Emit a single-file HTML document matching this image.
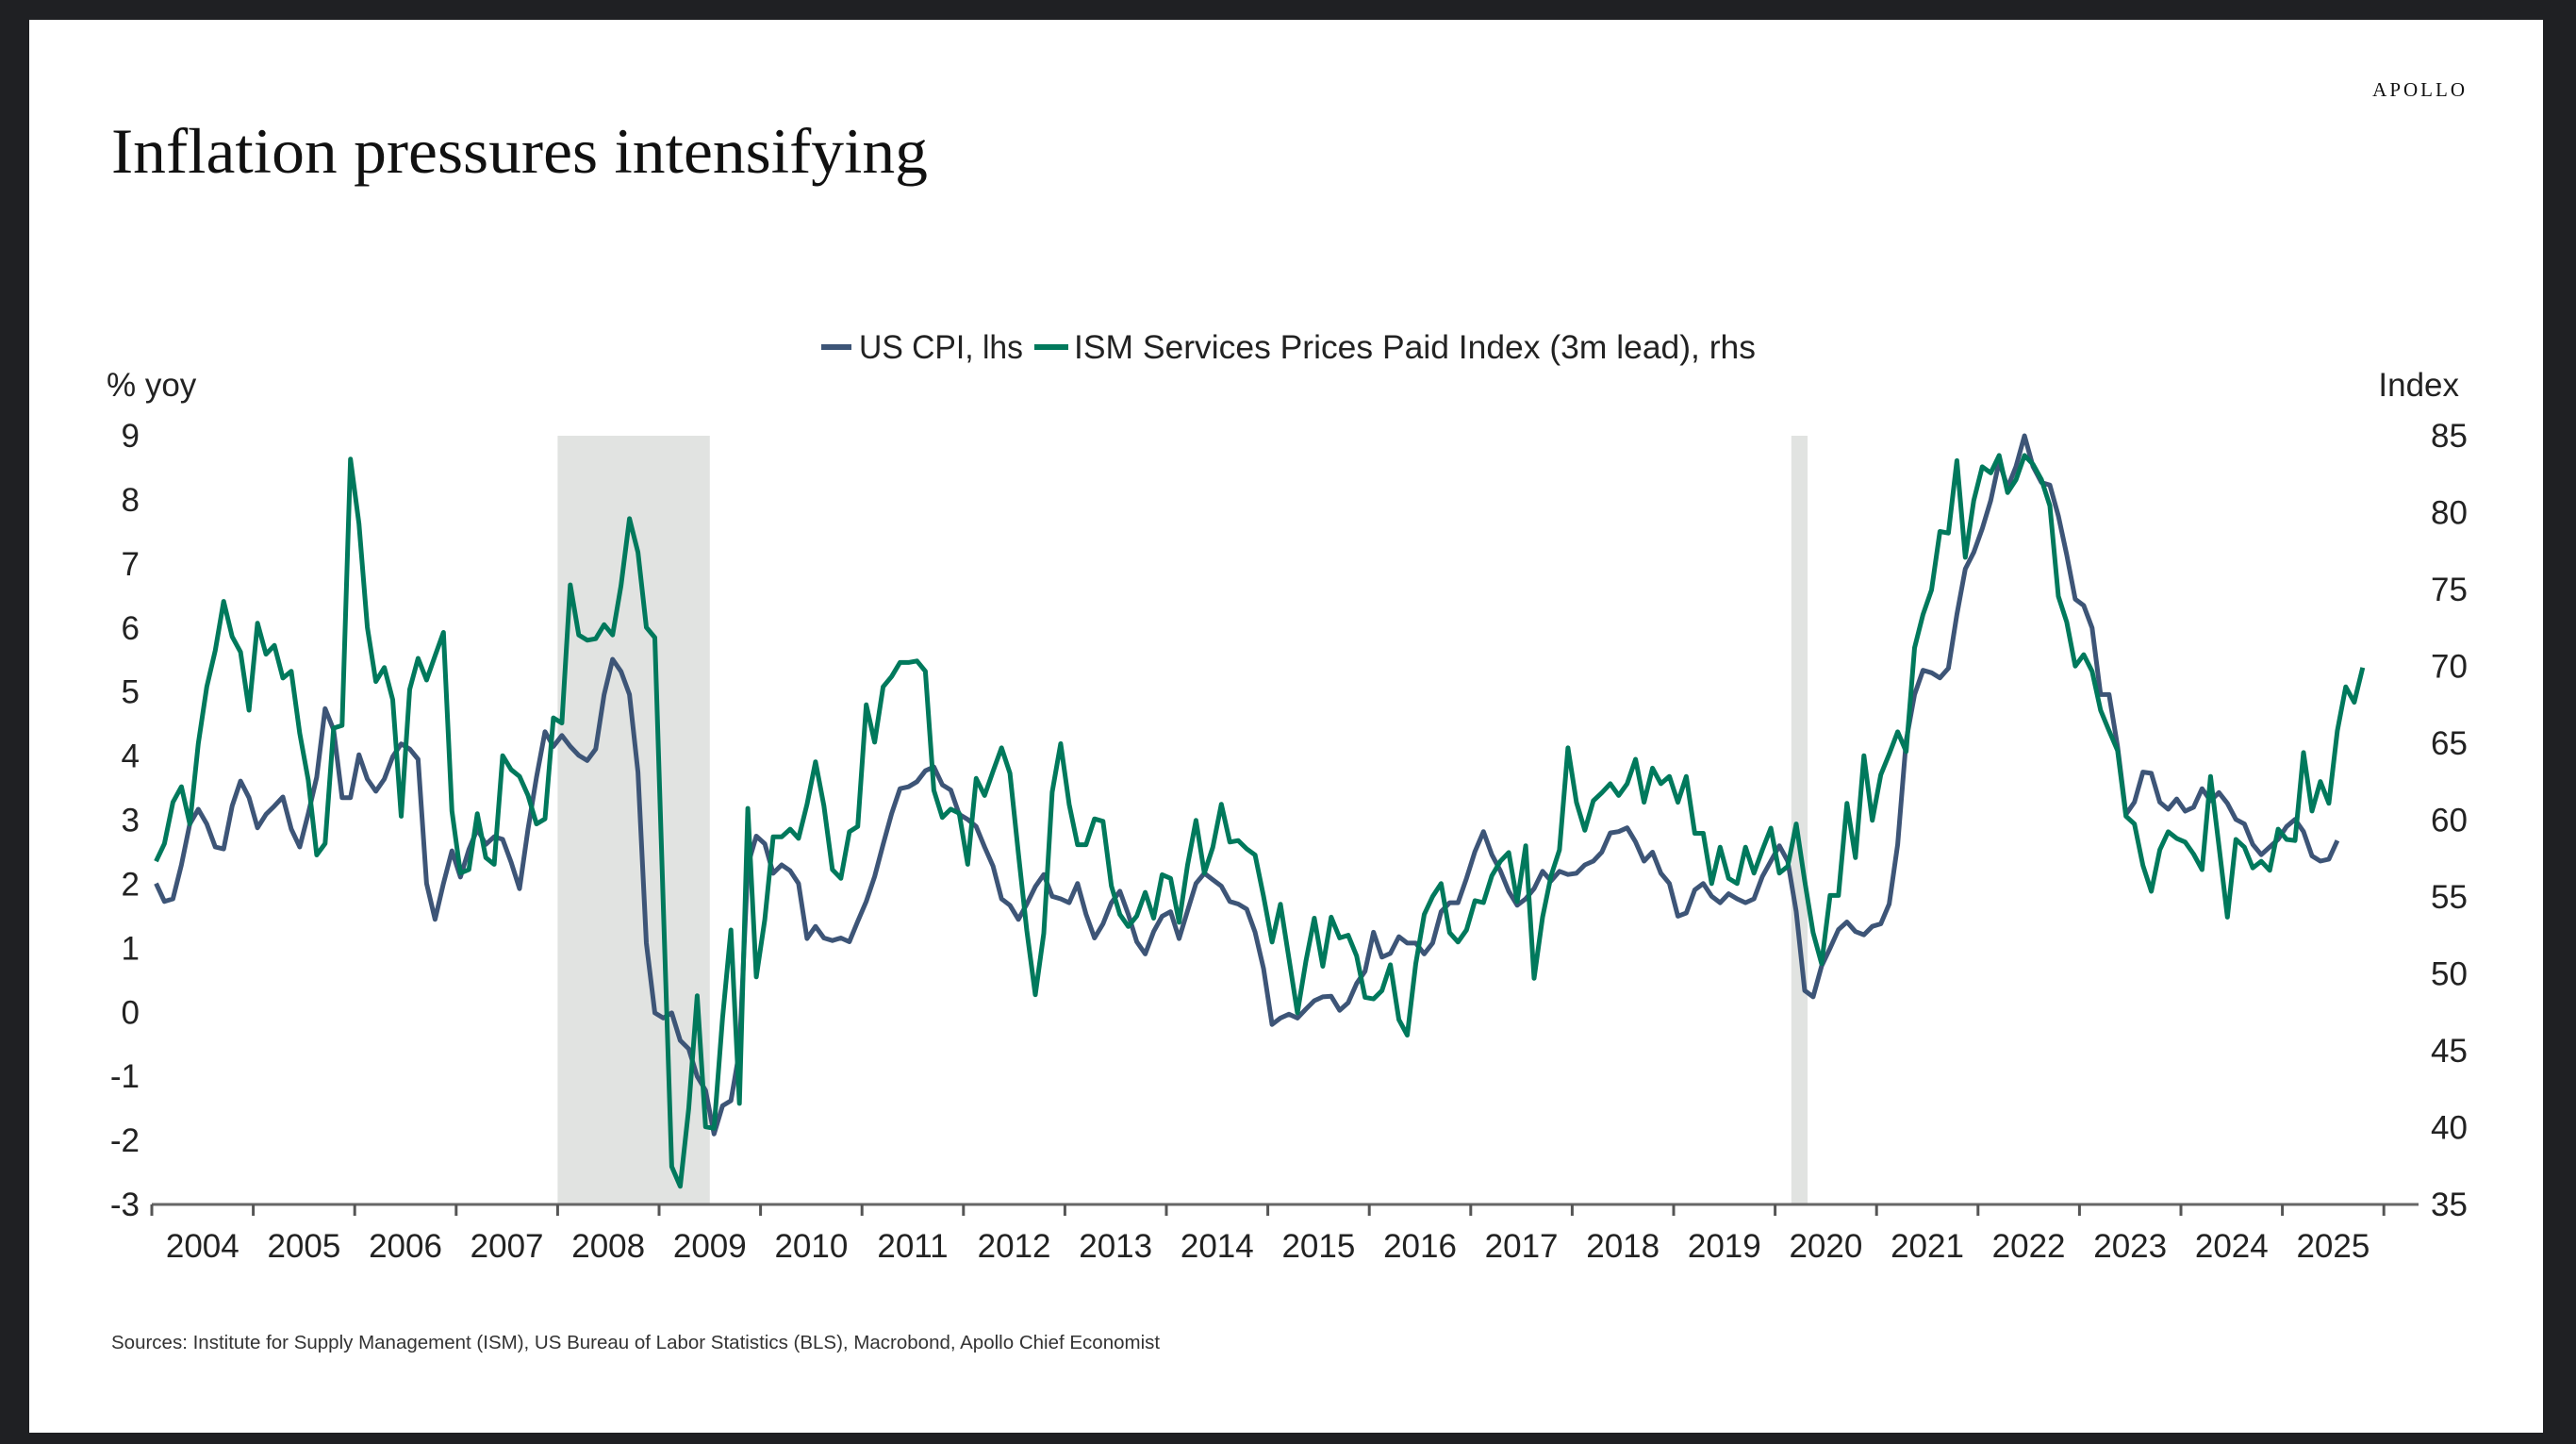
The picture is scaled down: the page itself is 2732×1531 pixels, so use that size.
<!DOCTYPE html>
<html><head><meta charset="utf-8"><style>
html,body{margin:0;padding:0;background:#1f2023;}
svg{display:block;}
text{font-family:"Liberation Sans",sans-serif;}
</style></head><body>
<svg id="chart" width="2732" height="1531" viewBox="0 0 2732 1531">
<rect x="0" y="0" width="2732" height="1531" fill="#1f2023"/>
<rect x="31" y="21" width="2666" height="1498" fill="#ffffff"/>
<text x="118" y="183" font-family="Liberation Serif, serif" style="font-family:'Liberation Serif',serif" font-size="68" fill="#111" textLength="866" lengthAdjust="spacingAndGlyphs">Inflation pressures intensifying</text>
<text x="2617" y="102" text-anchor="end" style="font-family:'Liberation Serif',serif" font-size="21" letter-spacing="3" fill="#111">APOLLO</text>
<g>
<line x1="871" y1="368" x2="903" y2="368" stroke="#3d5577" stroke-width="6"/>
<text x="911" y="380" font-size="35" fill="#222" textLength="174" lengthAdjust="spacingAndGlyphs">US CPI, lhs</text>
<line x1="1097" y1="368" x2="1133" y2="368" stroke="#00795c" stroke-width="6"/>
<text x="1139" y="380" font-size="35" fill="#222" textLength="723" lengthAdjust="spacingAndGlyphs">ISM Services Prices Paid Index (3m lead), rhs</text>
</g>
<text x="113" y="420" font-size="35" fill="#222">% yoy</text>
<text x="2608" y="420" font-size="35" fill="#222" text-anchor="end">Index</text>
<g id="shade"></g>
<g id="axes"></g>
<g id="lines"></g>
<text x="118" y="1430" font-size="20.5" fill="#333">Sources: Institute for Supply Management (ISM), US Bureau of Labor Statistics (BLS), Macrobond, Apollo Chief Economist</text>
</svg>
<script>
const startYear = 2004;
const cpiValues = [2.01,1.73,1.77,2.30,2.94,3.17,2.94,2.58,2.55,3.22,3.61,3.35,
2.88,3.09,3.22,3.36,2.86,2.58,3.10,3.67,4.74,4.41,3.35,3.35,
4.02,3.64,3.45,3.64,3.99,4.19,4.11,3.95,2.01,1.45,2.01,2.52,
2.11,2.54,2.86,2.62,2.74,2.70,2.34,1.93,2.86,3.67,4.38,4.15,
4.32,4.15,4.01,3.93,4.11,4.96,5.51,5.32,4.96,3.75,1.08,-0.01,
-0.09,-0.01,-0.44,-0.57,-1.0,-1.22,-1.90,-1.46,-1.38,-0.61,2.30,2.75,
2.63,2.17,2.30,2.21,2.01,1.15,1.34,1.16,1.12,1.16,1.10,1.42,
1.73,2.12,2.62,3.10,3.49,3.52,3.60,3.77,3.83,3.55,3.47,3.09,
3.01,2.90,2.58,2.28,1.77,1.67,1.45,1.69,1.96,2.15,1.81,1.77,
1.71,2.01,1.53,1.16,1.38,1.71,1.89,1.53,1.10,0.91,1.26,1.50,
1.57,1.15,1.58,2.01,2.17,2.07,1.97,1.73,1.69,1.61,1.25,0.68,
-0.19,-0.09,-0.03,-0.09,0.05,0.18,0.24,0.25,0.03,
0.15,0.45,0.64,
1.25,0.86,0.92,1.18,1.08,1.08,0.91,1.08,1.57,1.71,1.71,2.09,
2.51,2.82,2.46,2.21,1.89,1.67,1.77,1.93,2.20,2.05,2.20,2.15,
2.17,2.30,2.36,2.50,2.80,2.82,2.88,2.66,2.36,2.50,2.17,2.01,
1.50,1.55,1.91,2.01,1.81,1.71,1.85,1.77,1.71,1.77,2.12,2.36,
2.60,2.36,1.57,0.34,0.24,0.72,1.0,1.29,1.41,1.26,1.21,1.34,
1.38,1.69,2.62,4.24,4.96,5.34,5.30,5.22,
5.37,6.21,6.92,7.18,7.55,7.99,8.60,8.19,8.52,9.0,8.52,8.27,
8.23,7.75,7.14,6.45,6.35,6.0,4.96,4.96,4.15,3.09,3.28,3.75,
3.73,3.28,3.17,3.33,3.14,3.20,3.49,3.30,3.43,3.26,3.01,2.94,
2.62,2.46,2.58,2.70,2.90,3.01,2.82,2.44,2.36,2.39,2.68];
const ismValues = [57.32,58.47,61.16,62.17,59.75,64.97,68.67,71.03,74.23,71.94,70.93,67.15,
72.81,70.79,71.36,69.24,69.68,65.64,62.61,57.73,58.47,65.98,66.16,83.48,
79.28,72.54,69.01,69.92,67.83,60.25,68.50,70.52,69.11,70.69,72.21,60.59,
56.55,56.78,60.42,57.56,57.12,64.19,63.28,62.84,61.60,59.75,60.08,66.65,
66.31,75.30,72.04,71.70,71.80,72.71,72.04,75.24,79.61,77.42,72.54,71.87,
54.36,37.46,36.18,41.23,48.57,40.05,39.95,47.12,52.85,41.57,60.76,49.8,
53.52,58.91,58.91,59.41,58.81,61.03,63.79,60.93,56.78,56.21,59.24,59.58,
67.50,65.07,68.67,69.34,70.25,70.25,70.35,69.68,61.94,60.17,60.71,60.44,
57.12,62.71,61.60,63.18,64.70,63.05,57.81,52.81,48.64,52.64,61.82,64.97,
61.03,58.40,58.40,60.08,59.92,55.71,53.86,53.08,53.76,55.30,53.62,56.45,
56.21,53.35,57.05,59.98,56.55,58.24,61.03,58.57,58.67,58.13,57.73,55.03,
52.07,54.53,51.0,47.46,50.82,53.62,50.49,53.69,52.34,
52.51,51.16,48.47,
48.37,48.91,50.59,47.02,46.01,50.66,53.86,55.03,55.87,52.68,52.07,52.85,
54.76,54.63,56.38,57.32,57.89,54.70,58.33,49.71,53.69,56.38,58.06,64.70,
61.16,59.34,61.26,61.77,62.37,61.60,62.37,63.96,61.16,63.38,62.37,62.84,
61.16,62.84,59.14,59.14,55.87,58.24,56.21,55.87,58.24,56.55,58.06,59.48,
56.55,56.99,59.75,56.04,52.68,50.66,55.10,55.10,61.09,57.56,64.19,59.98,
62.95,64.29,65.74,64.46,71.20,73.38,74.97,78.77,
78.67,83.38,77.09,80.79,82.98,82.58,83.72,81.30,82.14,83.72,83.15,82.14,
80.45,74.56,72.88,70.02,70.76,69.68,67.15,65.81,64.53,60.25,59.75,57.05,
55.37,58.06,59.24,58.81,58.57,57.79,56.78,62.84,58.33,53.69,58.74,58.24,
56.89,57.32,56.73,59.41,58.74,58.67,64.39,60.59,62.51,61.09,65.81,68.67,
67.66,69.92];
const leftTicks = [9,8,7,6,5,4,3,2,1,0,-1,-2,-3];
const rightTicks = [85,80,75,70,65,60,55,50,45,40,35];
const yearLabels = [2004,2005,2006,2007,2008,2009,2010,2011,2012,2013,2014,2015,2016,2017,2018,2019,2020,2021,2022,2023,2024,2025];
const recessionStarts = [2008.0, 2020.16];
const recessionEnds = [2009.5, 2020.32];

const NS = "http://www.w3.org/2000/svg";
const X0 = 161, PXY = 107.6, YT = 462, YB = 1277;
function xYear(y){ return X0 + (y - 2004) * PXY; }
function xMonth(k){ return xYear(startYear + (k + 0.5) / 12); }
function yLeft(v){ return YT + (9 - v) / 12 * (YB - YT); }
function yRight(v){ return YT + (85 - v) / 50 * (YB - YT); }
function mk(tag, attrs, parent){ const e = document.createElementNS(NS, tag); for (const k in attrs) e.setAttribute(k, attrs[k]); parent.appendChild(e); return e; }

const shade = document.getElementById('shade');
recessionStarts.forEach((s, i) => {
  const r = mk('rect', {x: xYear(s), y: YT, width: xYear(recessionEnds[i]) - xYear(s), height: YB - YT, fill: '#e1e3e1'}, shade);
  
  
});

const axes = document.getElementById('axes');
const ax = mk('line', {x1: X0, y1: YB, x2: 2565, y2: YB, stroke: '#666', 'stroke-width': 3}, axes);


for (let y = 2004; y <= 2026; y++) {
  const t = mk('line', {x1: xYear(y), y1: YB, x2: xYear(y), y2: YB + 12, stroke: '#555', 'stroke-width': 3}, axes);
  
  
}
yearLabels.forEach(y => {
  const t = mk('text', {x: xYear(y + 0.5), y: YB + 56, 'text-anchor': 'middle', 'font-size': 35, fill: '#222'}, axes);
  t.textContent = y;
  
  
});
leftTicks.forEach(v => {
  const t = mk('text', {x: 148, y: yLeft(v) + 12, 'text-anchor': 'end', 'font-size': 35, fill: '#222'}, axes);
  t.textContent = v;
  
  
});
rightTicks.forEach(v => {
  const t = mk('text', {x: 2578, y: yRight(v) + 12, 'font-size': 35, fill: '#222'}, axes);
  t.textContent = v;
  
  
});

const lines = document.getElementById('lines');
const cpiPts = cpiValues.map((v, k) => xMonth(k).toFixed(1) + ',' + yLeft(v).toFixed(1)).join(' ');
const ismPts = ismValues.map((v, k) => xMonth(k).toFixed(1) + ',' + yRight(v).toFixed(1)).join(' ');
const lc = mk('polyline', {points: cpiPts, fill: 'none', stroke: '#3d5577', 'stroke-width': 5, 'stroke-linejoin': 'round'}, lines);


const li = mk('polyline', {points: ismPts, fill: 'none', stroke: '#00795c', 'stroke-width': 5, 'stroke-linejoin': 'round'}, lines);


</script>
</body></html>
